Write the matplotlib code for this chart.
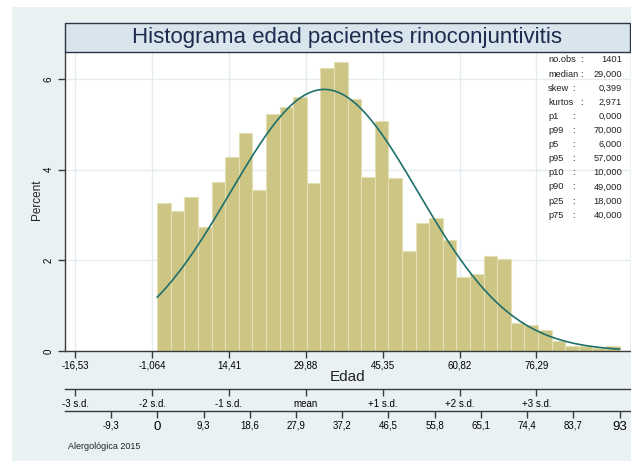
import numpy as np
import matplotlib
matplotlib.use("Agg")
import matplotlib.pyplot as plt
from matplotlib.patches import Rectangle

plt.rcParams['font.family'] = ['Liberation Sans', 'DejaVu Sans']

W, H = 631, 461

# datos (porcentaje por intervalo de edad, 0-93 años)
edad_min, edad_max = 0, 93
porcentaje = [3.27, 3.09, 3.40, 2.74, 3.74, 4.28, 4.81, 3.55, 5.23, 5.38, 5.61, 3.70,
              6.25, 6.37, 5.57, 3.85, 5.07, 3.82, 2.21, 2.82, 2.93, 2.44, 1.63, 1.71,
              2.10, 2.02, 0.62, 0.57, 0.46, 0.23, 0.11, 0.10, 0.07, 0.10]
curva_media = 33.6
curva_sd = 18.9

sd_ticks = [-16.53, -1.064, 14.41, 29.88, 45.35, 60.82, 76.29]
sd_tick_labels = ["-16,53", "-1,064", "14,41", "29,88", "45,35", "60,82", "76,29"]
sd_nombres = ["-3 s.d.", "-2 s.d.", "-1 s.d.", "mean", "+1 s.d.", "+2 s.d.", "+3 s.d."]
escala_ticks = [-9.3, 0, 9.3, 18.6, 27.9, 37.2, 46.5, 55.8, 65.1, 74.4, 83.7, 93]
escala_labels = ["-9,3", "0", "9,3", "18,6", "27,9", "37,2", "46,5", "55,8", "65,1",
                 "74,4", "83,7", "93"]
y_ticks = [0, 2, 4, 6]
stats_nombres = ["no.obs", "median", "skew", "kurtos", "p1", "p99", "p5", "p95",
                 "p10", "p90", "p25", "p75"]
stats_valores = ["1401", "29,000", "0,399", "2,971", "0,000", "70,000", "6,000",
                 "57,000", "10,000", "49,000", "18,000", "40,000"]


def fx(px):
    return px / W


def fy(py):
    return 1 - py / H


fondo = '#e9f1f3'
oscuro = '#3a3a3a'
xlim = (-18.57, 95.11)

fig = plt.figure(figsize=(W / 100, H / 100), dpi=100)
fig.patch.set_facecolor('white')
fig.add_artist(Rectangle((fx(12), 0), 1 - fx(12), fy(7), transform=fig.transFigure,
                         facecolor=fondo, edgecolor='none', zorder=-10))

# panel principal
ax = fig.add_axes([fx(65), fy(351), fx(630) - fx(65), fy(52) - fy(351)])
ax.set_facecolor('white')
ax.set_xlim(*xlim)
ax.set_ylim(0, 6.6)

bordes = np.linspace(edad_min, edad_max, len(porcentaje) + 1)
ancho = bordes[1] - bordes[0]
ax.bar(bordes[:-1], porcentaje, width=ancho, align='edge', color='#cdc584',
       edgecolor='#e4e0b4', linewidth=0.8, zorder=2)

xs = np.linspace(edad_min, edad_max, 400)
ys = 100 * ancho * np.exp(-0.5 * ((xs - curva_media) / curva_sd) ** 2) / (curva_sd * np.sqrt(2 * np.pi))
ax.plot(xs, ys, color='#1f6f6b', lw=1.2, zorder=3)

ax.set_xticks(sd_ticks)
ax.set_xticklabels(sd_tick_labels)
ax.set_yticks(y_ticks)
ax.set_yticklabels([str(v) for v in y_ticks], rotation=90, va='center')
ax.grid(color='#e3edf0', lw=1.0)
ax.set_axisbelow(True)
for s in ['top', 'right']:
    ax.spines[s].set_visible(False)
for s in ['left', 'bottom']:
    ax.spines[s].set_color(oscuro)
    ax.spines[s].set_linewidth(1.0)
ax.tick_params(axis='x', length=5, width=1, color=oscuro, labelsize=7, pad=2)
ax.tick_params(axis='y', length=5, width=1, color=oscuro, labelsize=7, pad=3)

# caja de estadísticas
for i, (nom, val) in enumerate(zip(stats_nombres, stats_valores)):
    yy = fy(60 + i * 14.1)
    fig.text(fx(548), yy, nom, fontsize=6.7, va='center', ha='left', color='#222222')
    fig.text(fx(580 if len(nom) >= 6 else 572), yy, ':', fontsize=6.7, va='center',
             ha='left', color='#222222')
    fig.text(fx(622), yy, val, fontsize=6.7, va='center', ha='right', color='#222222')

# titulo
fig.add_artist(Rectangle((fx(64.5), fy(51.7)), fx(629.8) - fx(64.5), fy(23.3) - fy(51.7),
                         transform=fig.transFigure, facecolor='#d8e5ec',
                         edgecolor='#2b3544', linewidth=1.0, zorder=5))
fig.text(fx(347), fy(37.5), 'Histograma edad pacientes rinoconjuntivitis',
         fontsize=16, ha='center', va='center', color='#1d2b4f', zorder=6)

fig.text(fx(36.7), fy(200), 'Percent', fontsize=8.5, rotation=90, ha='center',
         va='center', color='#222222')
fig.text(fx(347.5), fy(377), 'Edad', fontsize=11, ha='center', va='center',
         color='#222222')

# ejes inferiores
def eje_extra(ypx, ticks, labels):
    a = fig.add_axes([fx(65), fy(ypx), fx(630) - fx(65), 0.0001])
    a.set_facecolor('none')
    a.set_xlim(*xlim)
    a.set_yticks([])
    for s in ['top', 'right', 'left']:
        a.spines[s].set_visible(False)
    a.spines['bottom'].set_color(oscuro)
    a.spines['bottom'].set_linewidth(1.0)
    a.set_xticks(ticks)
    a.set_xticklabels(labels)
    a.tick_params(axis='x', length=5, width=1, color=oscuro, labelsize=7, pad=2)
    return a

eje_extra(389, sd_ticks, sd_nombres)
a3 = eje_extra(411, escala_ticks, escala_labels)
for t in a3.get_xticklabels():
    if t.get_text() in ('0', '93'):
        t.set_fontsize(9.5)

fig.text(fx(68), fy(446), 'Alergológica 2015', fontsize=6.5, ha='left', va='center',
         color='#222222')

fig.savefig('out.png', dpi=100, facecolor=fig.get_facecolor())
